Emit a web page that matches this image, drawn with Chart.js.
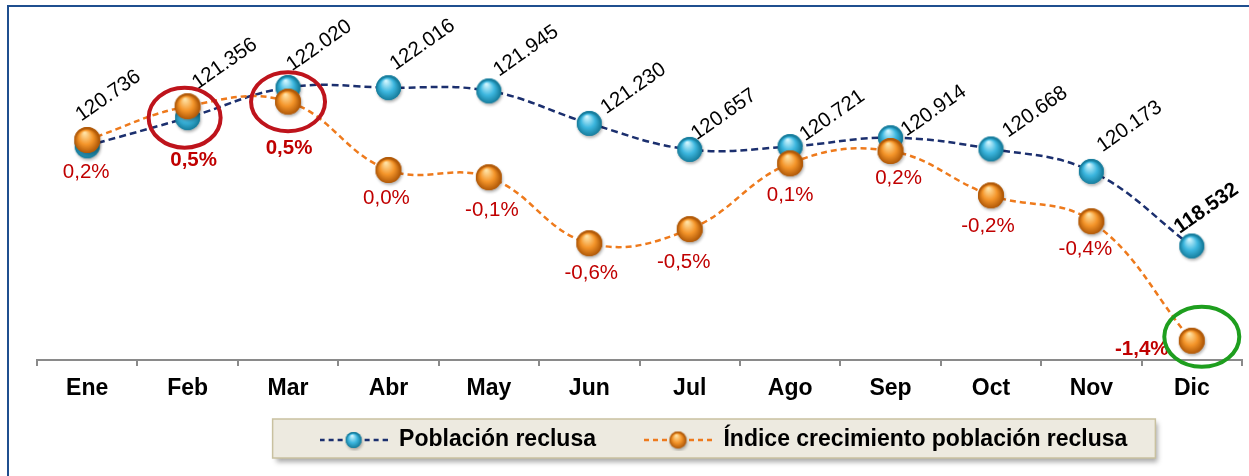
<!DOCTYPE html>
<html>
<head>
<meta charset="utf-8">
<script src="https://cdn.jsdelivr.net/npm/chart.js@4.4.1/dist/chart.umd.min.js"></script>
<style>
  html, body { margin: 0; padding: 0; background: #ffffff; }
  #wrap { position: relative; width: 1249px; height: 476px; }
</style>
</head>
<body>
<div id="wrap"><canvas id="c" width="1249" height="476"></canvas></div>
<script>
// ---------- DATA ----------
const months = ['Ene', 'Feb', 'Mar', 'Abr', 'May', 'Jun', 'Jul', 'Ago', 'Sep', 'Oct', 'Nov', 'Dic'];
const poblacion = [120736, 121356, 122020, 122016, 121945, 121230, 120657, 120721, 120914, 120668, 120173, 118532];
const crecimiento = [0.24, 0.51, 0.547, 0.00, -0.058, -0.586, -0.473, 0.053, 0.152, -0.203, -0.41, -1.366];
const seriesNames = ['Población reclusa', 'Índice crecimiento población reclusa'];

// ---------- LABEL LAYOUT (offsets relative to each point, in px) ----------
const valueLabelOffsets = [[-6,-24],[10,-28],[4,-16],[7,-17],[10,-14],[17,-9],[7,-9],[15,-5],[16,-1],[17,-11],[11,-19],[-12,-12]];
const valueLabelBold = [false,false,false,false,false,false,false,false,false,false,false,true];
const pctLabelOffsets = [[-1,32],[6,54],[1,47],[-2,28],[3,33],[2,30],[-6,33],[0,32],[8,27],[-3,31],[-6,28],[-50,9]];
const pctLabelBold = [false,true,true,false,false,false,false,false,false,false,false,true];
const highlights = [
  { ds: 0, idx: 1, dx: -3, dy: 0, rx: 36, ry: 30, color: '#BE141C' },
  { ds: 1, idx: 2, dx: 0, dy: 0, rx: 37, ry: 29.5, color: '#BE141C' },
  { ds: 1, idx: 11, dx: 10, dy: -4, rx: 37.5, ry: 30, color: '#1E9E1E' }
];

const FONT = "'Liberation Sans', Arial, sans-serif";
const BLUE_LINE = '#1B2F6E';
const ORANGE_LINE = '#EE7A1C';

function makeBall(r, light, mid, dark) {
  const pad = 5;
  const s = Math.round(2 * r + 2 * pad);
  const c = document.createElement('canvas');
  c.width = s; c.height = s;
  const g = c.getContext('2d');
  const cx = s / 2, cy = s / 2;
  g.save();
  g.shadowColor = 'rgba(0,0,0,0.30)';
  g.shadowBlur = 3; g.shadowOffsetX = 1; g.shadowOffsetY = 2;
  g.beginPath(); g.arc(cx, cy, r, 0, Math.PI * 2); g.fillStyle = dark; g.fill();
  g.restore();
  const grad = g.createRadialGradient(cx - r * 0.2, cy - r * 0.55, r * 0.05, cx, cy + r * 0.15, r * 1.05);
  grad.addColorStop(0, light);
  grad.addColorStop(0.5, mid);
  grad.addColorStop(0.88, dark);
  grad.addColorStop(1, dark);
  g.beginPath(); g.arc(cx, cy, r, 0, Math.PI * 2); g.fillStyle = grad; g.fill();
  return c;
}
function makeLegendMarker(lineColor, ball) {
  const w = 68, h = 22;
  const c = document.createElement('canvas');
  c.width = w; c.height = h;
  const g = c.getContext('2d');
  g.strokeStyle = lineColor; g.lineWidth = 2.5; g.setLineDash([5, 4]);
  g.beginPath(); g.moveTo(0, h / 2); g.lineTo(w, h / 2); g.stroke();
  g.drawImage(ball, (w - ball.width) / 2, (h - ball.height) / 2);
  return c;
}

const blueBall = makeBall(12.5, '#D2F6FF', '#3DB7DF', '#177E9E');
const orangeBall = makeBall(13, '#FFE3A6', '#F4952A', '#B25A08');
const blueLegendBall = makeBall(8, '#D2F6FF', '#3DB7DF', '#177E9E');
const orangeLegendBall = makeBall(8.5, '#FFE3A6', '#F4952A', '#B25A08');
const blueMarker = makeLegendMarker(BLUE_LINE, blueLegendBall);
const orangeMarker = makeLegendMarker(ORANGE_LINE, orangeLegendBall);

function fmtMiles(v) {
  const k = Math.floor(v / 1000), r = v % 1000;
  return k + '.' + String(r).padStart(3, '0');
}
function fmtPct(v) {
  return v.toFixed(1).replace('.', ',') + '%';
}

const LEGEND_FONT = 23;
const LEGEND_PAD = 48;
const LEGEND_CX = 723.5;
const LEGEND_CY = 440;

const decorPlugin = {
  id: 'decor',
  afterLayout(chart) {
    const lg = chart.legend;
    if (!lg) return;
    const w = lg.right - lg.left;
    lg.left = LEGEND_CX - w / 2;
    lg.right = LEGEND_CX + w / 2;
    lg.top = LEGEND_CY - LEGEND_PAD - LEGEND_FONT / 2;
    lg.height = 130;
    lg.bottom = lg.top + lg.height;
  },
  beforeDraw(chart) {
    const ctx = chart.ctx;
    ctx.save();
    // outer frame
    ctx.strokeStyle = '#1F4F8F';
    ctx.lineWidth = 2;
    ctx.beginPath();
    ctx.moveTo(8, 476); ctx.lineTo(8, 6); ctx.lineTo(1249, 6);
    ctx.stroke();
    // legend box
    const lg = chart.legend;
    const hb = lg && lg.legendHitBoxes;
    if (hb && hb.length) {
      const cy = hb[0].top + LEGEND_FONT / 2;
      const last = hb[hb.length - 1];
      const x0 = hb[0].left - 47, x1 = last.left + last.width + 28;
      const y0 = cy - 21, y1 = cy + 18;
      ctx.save();
      ctx.shadowColor = 'rgba(0,0,0,0.35)';
      ctx.shadowBlur = 5; ctx.shadowOffsetX = 3; ctx.shadowOffsetY = 4;
      ctx.fillStyle = '#EDEAE0';
      ctx.fillRect(x0, y0, x1 - x0, y1 - y0);
      ctx.restore();
      ctx.strokeStyle = '#C9C1A0';
      ctx.lineWidth = 1.5;
      ctx.strokeRect(x0, y0, x1 - x0, y1 - y0);
    }
    ctx.restore();
  },
  afterDatasetsDraw(chart) {
    const ctx = chart.ctx;
    const blue = chart.getDatasetMeta(0).data;
    const orange = chart.getDatasetMeta(1).data;
    ctx.save();
    // value labels (rotated)
    blue.forEach((pt, i) => {
      const [dx, dy] = valueLabelOffsets[i];
      ctx.save();
      ctx.translate(pt.x + dx, pt.y + dy);
      ctx.rotate(-35 * Math.PI / 180);
      ctx.font = (valueLabelBold[i] ? 'bold ' : '') + '20.5px ' + FONT;
      ctx.fillStyle = '#000000';
      ctx.textAlign = 'left';
      ctx.textBaseline = 'alphabetic';
      ctx.fillText(fmtMiles(poblacion[i]), 0, 0);
      ctx.restore();
    });
    // percentage labels
    orange.forEach((pt, i) => {
      const [dx, dy] = pctLabelOffsets[i];
      ctx.font = (pctLabelBold[i] ? 'bold ' : '') + '20.5px ' + FONT;
      ctx.fillStyle = '#C00000';
      ctx.textAlign = 'center';
      ctx.textBaseline = 'middle';
      ctx.fillText(fmtPct(crecimiento[i]), pt.x + dx, pt.y + dy);
    });
    // highlight ellipses
    highlights.forEach(h => {
      const pt = chart.getDatasetMeta(h.ds).data[h.idx];
      ctx.beginPath();
      ctx.ellipse(pt.x + h.dx, pt.y + h.dy, h.rx, h.ry, 0, 0, Math.PI * 2);
      ctx.strokeStyle = h.color;
      ctx.lineWidth = 4;
      ctx.stroke();
    });
    ctx.restore();
  }
};

new Chart(document.getElementById('c'), {
  type: 'line',
  data: {
    labels: months,
    datasets: [
      {
        label: seriesNames[0],
        data: poblacion,
        yAxisID: 'yPob',
        order: 1,
        borderColor: BLUE_LINE,
        borderWidth: 2.5,
        borderDash: [7, 4],
        tension: 0.4,
        fill: false,
        pointStyle: blueBall,
        pointRadius: 12,
        pointHoverRadius: 12,
        clip: false
      },
      {
        label: seriesNames[1],
        data: crecimiento,
        yAxisID: 'yPct',
        order: 0,
        borderColor: ORANGE_LINE,
        borderWidth: 2.5,
        borderDash: [6, 4],
        tension: 0.4,
        fill: false,
        pointStyle: orangeBall,
        pointRadius: 12,
        pointHoverRadius: 12,
        clip: false
      }
    ]
  },
  options: {
    responsive: false,
    animation: false,
    devicePixelRatio: 1,
    events: [],
    layout: { autoPadding: false, padding: { left: 37, right: 7, top: 20, bottom: 0 } },
    scales: {
      x: {
        type: 'category',
        offset: true,
        grid: { display: true, drawOnChartArea: false, drawTicks: true, tickLength: 6, color: '#8A8A8A', lineWidth: 2, offset: true },
        border: { display: true, color: '#8A8A8A', width: 2 },
        ticks: { color: '#000000', font: { family: FONT, size: 23, weight: 'bold' }, padding: 9, maxRotation: 0, autoSkip: false },
        afterFit: (s) => { s.height = 115; s.paddingLeft = 0; s.paddingRight = 0; }
      },
      yPob: { type: 'linear', display: false, position: 'left', min: 116023, max: 123505 },
      yPct: { type: 'linear', display: false, position: 'right', min: -1.52, max: 1.2 }
    },
    plugins: {
      tooltip: { enabled: false },
      legend: {
        display: true,
        position: 'bottom',
        maxHeight: 1,
        labels: {
          usePointStyle: true,
          pointStyleWidth: 68,
          padding: LEGEND_PAD,
          color: '#000000',
          font: { family: FONT, size: LEGEND_FONT, weight: 'bold' },
          generateLabels: (chart) => chart.data.datasets.map((ds, i) => ({
            text: ds.label,
            pointStyle: i === 0 ? blueMarker : orangeMarker,
            fillStyle: 'transparent',
            strokeStyle: 'transparent',
            lineWidth: 0,
            hidden: false,
            datasetIndex: i,
            fontColor: '#000000'
          }))
        }
      }
    }
  },
  plugins: [decorPlugin]
});
</script>
</body>
</html>
